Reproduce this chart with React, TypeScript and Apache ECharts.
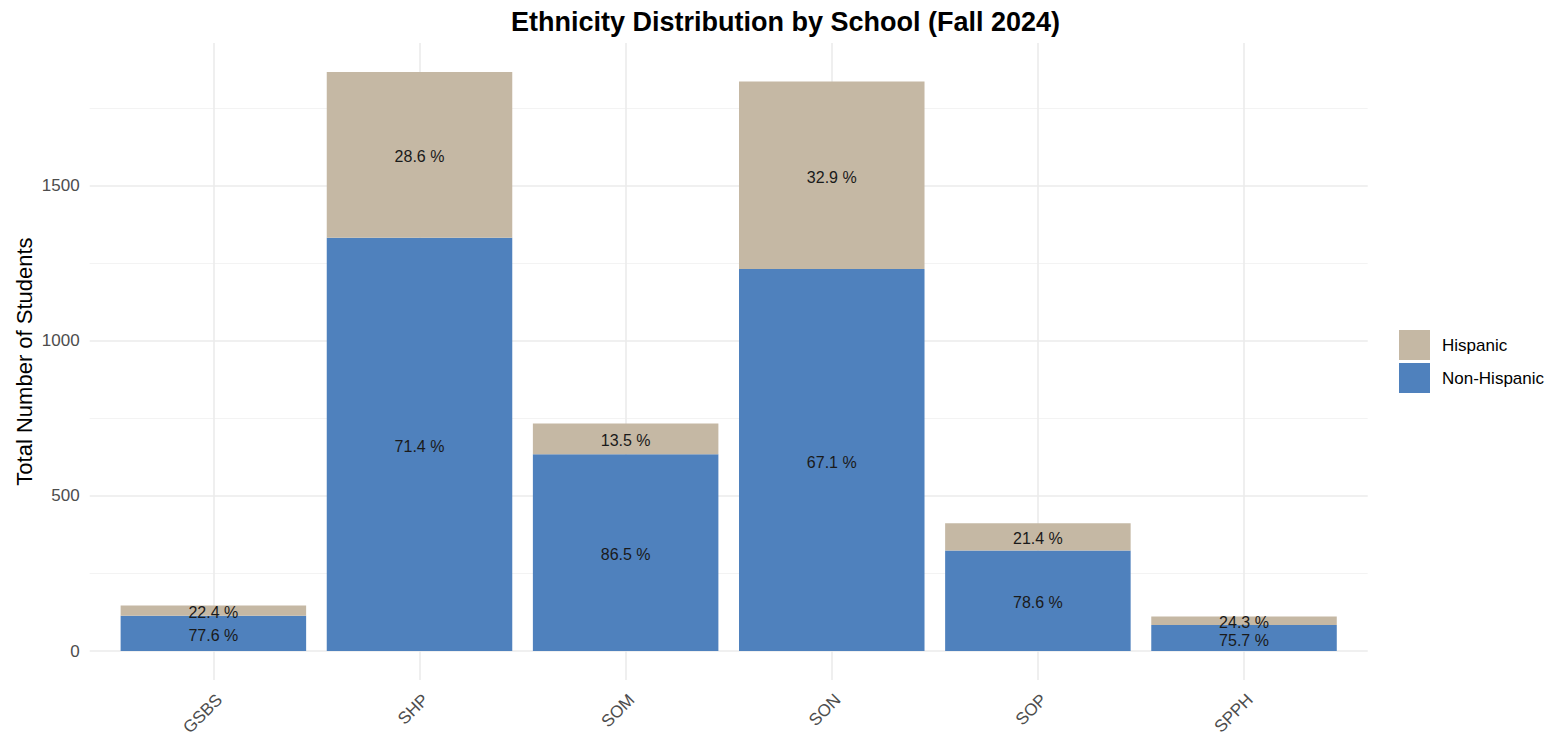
import React, { useEffect, useRef } from "react";
import * as echarts from "echarts";

const categories = ["GSBS", "SHP", "SOM", "SON", "SOP", "SPPH"];
const nonHispanic = [114, 1332, 634, 1231, 324, 84];
const hispanic = [33, 534, 99, 604, 88, 27];
const yTickLabels = [0, 500, 1000, 1500];
const majorBreaks = [0, 500, 1000, 1500];
const minorBreaks = [250, 750, 1250, 1750];

const HISP_COLOR = "#C5B8A4";
const NONHISP_COLOR = "#4F81BD";
const FONT = "'Liberation Sans', Arial, sans-serif";

export default function App() {
  const ref = useRef<HTMLDivElement>(null);

  useEffect(() => {
    if (!ref.current) return;
    const chart = echarts.init(ref.current, undefined, { renderer: "svg" });

    const totals = categories.map((_, i) => nonHispanic[i] + hispanic[i]);
    const maxTotal = Math.max(...totals);
    const pad = maxTotal * 0.05;
    const yMin = -pad;
    const yMax = maxTotal + pad;
    const positions = categories.map((_, i) => i + 1);

    const pct = (v: number, i: number) => ((v / totals[i]) * 100).toFixed(1) + " %";

    const barLabel = {
      show: true,
      position: "inside",
      offset: [0, 2],
      fontFamily: FONT,
      fontSize: 16,
      color: "#1A1A1A",
      formatter: (p: any) => pct(p.value, p.dataIndex),
    };

    const panelLeft = 89.7;
    const panelRight = 1367.7;
    const step = (panelRight - panelLeft) / (categories.length + 0.2);
    const bandLeft = panelLeft + 0.1 * step;
    const top = 43;
    const bottom = 680;

    const option: any = {
      animation: false,
      backgroundColor: "#FFFFFF",
      textStyle: { fontFamily: FONT },
      title: {
        text: "Ethnicity Distribution by School (Fall 2024)",
        left: 511,
        top: 8,
        padding: 0,
        textStyle: { fontFamily: FONT, fontSize: 27, fontWeight: "bold", color: "#000000" },
      },
      legend: {
        orient: "vertical",
        left: 1399,
        top: 330,
        padding: 0,
        itemWidth: 31,
        itemHeight: 30,
        itemGap: 3,
        icon: "rect",
        selectedMode: false,
        data: ["Hispanic", "Non-Hispanic"],
        textStyle: { fontFamily: FONT, fontSize: 17, color: "#000000", padding: [0, 0, 0, 7] },
      },
      grid: [
        {
          left: panelLeft,
          top: top,
          width: panelRight - panelLeft,
          height: bottom - top,
          containLabel: false,
          outerBoundsMode: "none",
        },
        {
          left: bandLeft,
          top: top,
          width: step * categories.length,
          height: bottom - top,
          containLabel: false,
          outerBoundsMode: "none",
        },
      ],
      xAxis: [
        {
          type: "value",
          gridIndex: 0,
          min: 1 - 0.6,
          max: categories.length + 0.6,
          axisLine: { show: false },
          axisTick: { show: false },
          splitLine: { show: false },
          axisLabel: {
            customValues: positions,
            formatter: (v: number) => categories[Math.round(v) - 1] ?? "",
            rotate: 45,
            margin: 11,
            verticalAlign: "top",
            fontFamily: FONT,
            fontSize: 17,
            color: "#4D4D4D",
          },
        },
        {
          type: "category",
          gridIndex: 1,
          data: categories,
          boundaryGap: true,
          axisLine: { show: false },
          axisTick: { show: false },
          axisLabel: { show: false },
          splitLine: { show: false },
        },
      ],
      yAxis: [
        {
          type: "value",
          gridIndex: 0,
          min: yMin,
          max: yMax,
          axisLine: { show: false },
          axisTick: { show: false },
          splitLine: { show: false },
          axisLabel: {
            customValues: yTickLabels,
            formatter: (v: number) => String(v),
            margin: 10,
            fontFamily: FONT,
            fontSize: 17,
            color: "#4D4D4D",
          },
          name: "Total Number of Students",
          nameLocation: "middle",
          nameRotate: 90,
          nameGap: 54,
          nameMoveOverlap: false,
          nameTextStyle: { fontFamily: FONT, fontSize: 22, color: "#000000" },
        },
        { type: "value", gridIndex: 1, min: yMin, max: yMax, show: false },
      ],
      series: [
        {
          type: "line",
          xAxisIndex: 0,
          yAxisIndex: 0,
          data: [],
          silent: true,
          z: 0,
          markLine: {
            silent: true,
            z: 0,
            symbol: ["none", "none"],
            label: { show: false },
            emphasis: { disabled: true },
            data: [
              ...minorBreaks.map((v) => ({ yAxis: v, lineStyle: { color: "#F2F2F2", width: 0.9, type: "solid" } })),
              ...majorBreaks.map((v) => ({ yAxis: v, lineStyle: { color: "#EBEBEB", width: 1.6, type: "solid" } })),
            ],
          },
        },
        {
          type: "line",
          xAxisIndex: 1,
          yAxisIndex: 1,
          data: [],
          silent: true,
          z: 0,
          markLine: {
            silent: true,
            z: 0,
            symbol: ["none", "none"],
            label: { show: false },
            emphasis: { disabled: true },
            data: categories.map((c) => ({ xAxis: c, lineStyle: { color: "#EBEBEB", width: 1.6, type: "solid" } })),
          },
        },
        {
          name: "Non-Hispanic",
          type: "bar",
          xAxisIndex: 1,
          yAxisIndex: 1,
          stack: "total",
          barWidth: "90%",
          z: 3,
          itemStyle: { color: NONHISP_COLOR },
          label: barLabel,
          data: nonHispanic,
        },
        {
          name: "Hispanic",
          type: "bar",
          xAxisIndex: 1,
          yAxisIndex: 1,
          stack: "total",
          barWidth: "90%",
          z: 3,
          itemStyle: { color: HISP_COLOR },
          label: barLabel,
          data: hispanic,
        },
      ],
    };

    chart.setOption(option);
    return () => chart.dispose();
  }, []);

  return (
    <div
      ref={ref}
      style={{ position: "fixed", left: 0, top: 0, width: "100vw", height: "100vh", background: "#fff" }}
    />
  );
}
